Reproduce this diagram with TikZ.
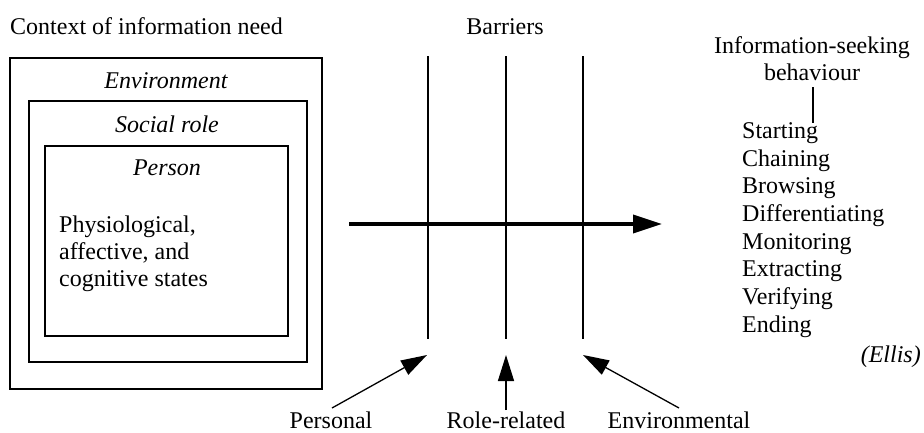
\documentclass[tikz,border=0pt]{standalone}
\usepackage{fontspec}
\setmainfont{Liberation Serif}
\usetikzlibrary{arrows.meta}
\begin{document}
\begin{tikzpicture}[x=1pt,y=-1pt,
  every node/.style={inner sep=0pt, font=\fontsize{24}{27.7}\selectfont},
  box/.style={draw, line width=1.6pt},
  lbl/.style={anchor=base west},
  clbl/.style={anchor=base},
  barrier/.style={line width=1.5pt},
  flow/.style={line width=3.5pt, -{Triangle[length=29pt,width=18pt]}},
  push/.style={line width=1.3pt, -{Triangle[length=26pt,width=16pt]}}]
\useasboundingbox (0,0) rectangle (924,432);
% context boxes
\draw[box] (10,58) rectangle (322,389);
\draw[box] (29,101) rectangle (307,362);
\draw[box] (45,146) rectangle (288,336);
\node[lbl] (ctx) at (10,34) {Context of information need};
\node[clbl] (env) at (166,88) {\itshape Environment};
\node[clbl] (role) at (167,132) {\itshape Social role};
\node[clbl] (person) at (167,175) {\itshape Person};
\node[lbl] (p1) at (59,232) {Physiological,};
\node[lbl] (p2) at (59,259) {affective, and};
\node[lbl] (p3) at (59,286) {cognitive states};
% barriers
\node[clbl] (bar) at (505,34) {Barriers};
\coordinate (b1t) at (428,56); \coordinate (b1b) at (428,339);
\coordinate (b2t) at (506,56); \coordinate (b2b) at (506,339);
\coordinate (b3t) at (583,56); \coordinate (b3b) at (583,339);
\draw[barrier] (b1t) -- (b1b);
\draw[barrier] (b2t) -- (b2b);
\draw[barrier] (b3t) -- (b3b);
% main arrow
\coordinate (as) at (349,224);
\coordinate (ae) at (662,224);
\draw[flow] (as) -- (ae);
% bottom labels and arrows
\node[clbl] (pers) at (331,428) {Personal};
\node[clbl] (rrel) at (506,428) {Role-related};
\node[clbl] (envl) at (679,428) {Environmental};
\coordinate (t1) at (427,355);
\coordinate (t2) at (506,355);
\coordinate (t3) at (583,355);
\coordinate (s1) at (332,408);
\coordinate (s2) at (506,410);
\coordinate (s3) at (679,408);
\draw[push] (s1) -- (t1);
\draw[push] (s2) -- (t2);
\draw[push] (s3) -- (t3);
% information-seeking behaviour
\node[clbl] (h1) at (812,53) {Information-seeking};
\node[clbl] (h2) at (812,80) {behaviour};
\node[lbl] (l1) at (742,138) {Starting};
\node[lbl] (l2) at (742,166) {Chaining};
\node[lbl] (l3) at (742,193) {Browsing};
\node[lbl] (l4) at (742,221) {Differentiating};
\node[lbl] (l5) at (742,249) {Monitoring};
\node[lbl] (l6) at (742,276) {Extracting};
\node[lbl] (l7) at (742,304) {Verifying};
\node[lbl] (l8) at (742,332) {Ending};
\draw[line width=1.3pt] ([yshift=-7pt]h2.south -| 813,0) -- ([yshift=-1pt]l1.north -| 813,0);
\node[anchor=base east] (ellis) at (921,362) {\itshape (Ellis)};
\end{tikzpicture}
\end{document}
